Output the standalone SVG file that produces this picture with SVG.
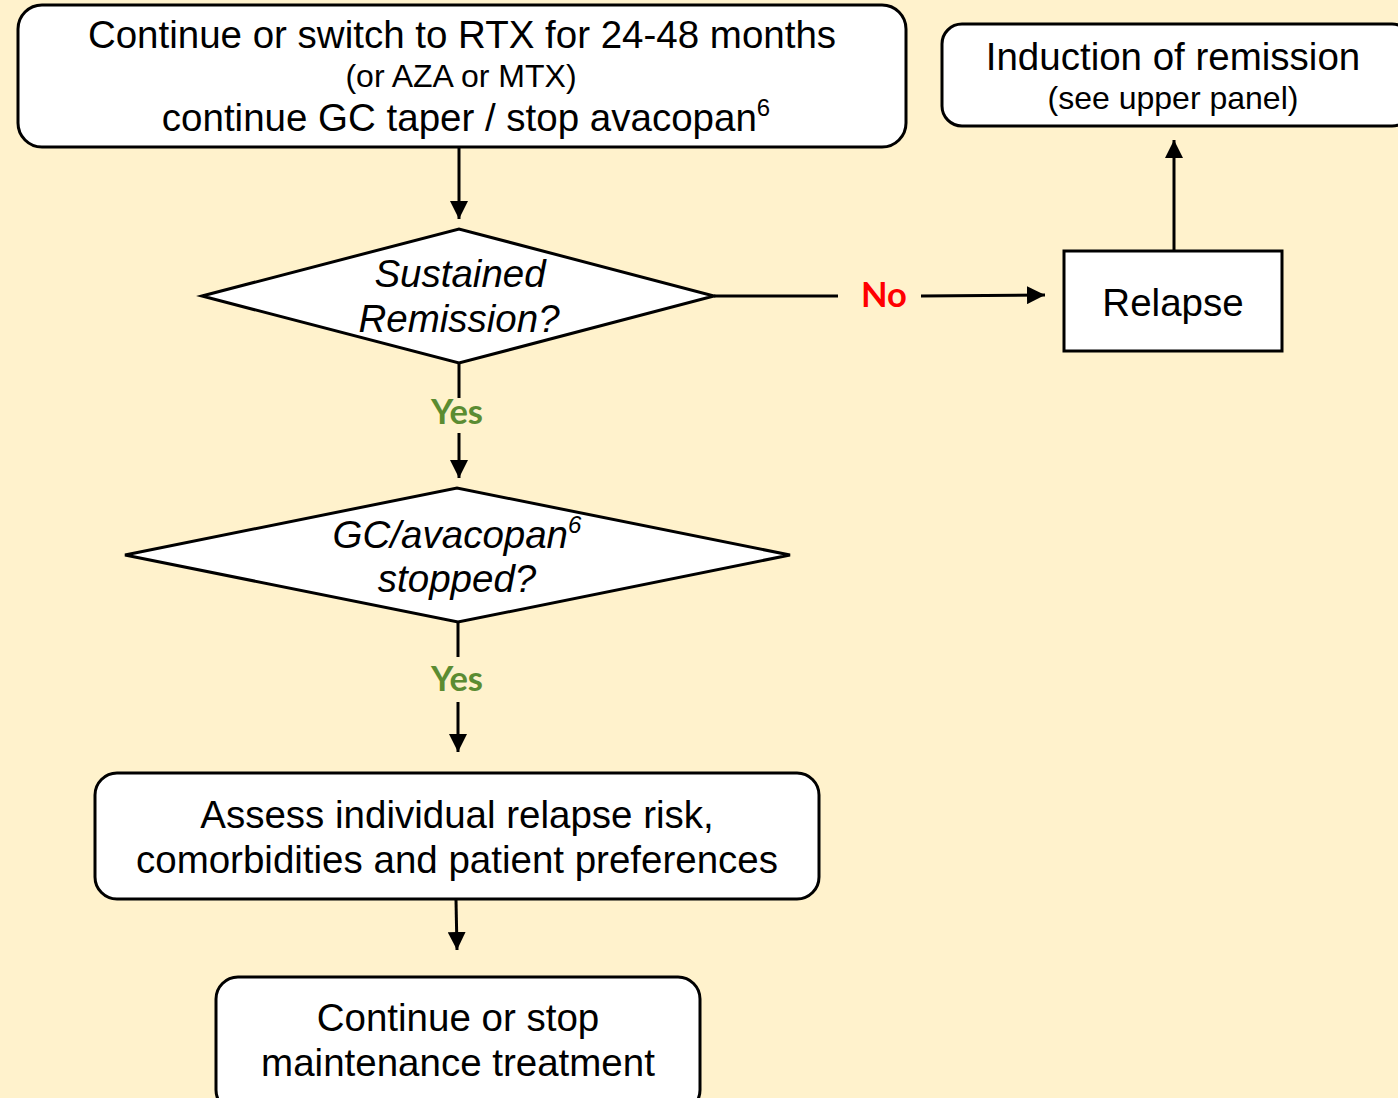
<svg xmlns="http://www.w3.org/2000/svg" width="1398" height="1098" viewBox="0 0 1398 1098">
<defs>
<style>
.box{fill:#fff;stroke:#000;stroke-width:3}
.t{font-family:"Liberation Sans",Arial,sans-serif;fill:#000;text-anchor:middle}
.big{font-size:38.5px}
.sm{font-size:32px}
.it{font-style:italic}
.lbl{font-family:Lato,"Open Sans",sans-serif;font-weight:bold;font-size:34.5px;text-anchor:middle}
.ln{stroke:#000;stroke-width:3;fill:none}
</style>
<marker id="ah" viewBox="0 0 10 10" refX="10" refY="5" markerWidth="6" markerHeight="6" markerUnits="strokeWidth" orient="auto">
<path d="M0,0 L10,5 L0,10 Z" fill="#000"/>
</marker>
</defs>
<rect width="1398" height="1098" fill="#FFF2CC"/>
<g id="connectors">
<line class="ln" x1="459" y1="148" x2="459" y2="219" marker-end="url(#ah)"/>
<line class="ln" x1="714" y1="296" x2="838" y2="296"/>
<line class="ln" x1="921" y1="296" x2="1045" y2="295" marker-end="url(#ah)"/>
<line class="ln" x1="1174" y1="251" x2="1174" y2="140" marker-end="url(#ah)"/>
<line class="ln" x1="459" y1="363" x2="459" y2="398"/>
<line class="ln" x1="459" y1="433" x2="459" y2="478" marker-end="url(#ah)"/>
<line class="ln" x1="458" y1="622" x2="458" y2="657"/>
<line class="ln" x1="458" y1="702" x2="458" y2="752" marker-end="url(#ah)"/>
<line class="ln" x1="456" y1="900" x2="457" y2="950" marker-end="url(#ah)"/>
<text class="lbl" x="884" y="307" fill="#FF0000">No</text>
<text class="lbl" x="457" y="424" fill="#5B8C32">Yes</text>
<text class="lbl" x="457" y="691" fill="#5B8C32">Yes</text>
</g>
<g id="n1">
<rect class="box" x="18" y="5" width="888" height="142" rx="24"/>
<text class="t big" x="462" y="48">Continue or switch to RTX for 24-48 months</text>
<text class="t sm" x="461" y="87">(or AZA or MTX)</text>
<text class="t big" x="466" y="131">continue GC taper / stop avacopan<tspan font-size="24" dy="-15">6</tspan></text>
</g>
<g id="n2">
<polygon class="box" points="202,296 459,229 714,296 459,363"/>
<text class="t big it" x="460" y="287">Sustained</text>
<text class="t big it" x="459" y="332">Remission?</text>
</g>
<g id="n3">
<rect class="box" x="1064" y="251" width="218" height="100"/>
<text class="t big" x="1173" y="316">Relapse</text>
</g>
<g id="n4">
<rect class="box" x="942" y="24" width="470" height="102" rx="20"/>
<text class="t big" x="1173" y="70">Induction of remission</text>
<text class="t sm" x="1173" y="109">(see upper panel)</text>
</g>
<g id="n5">
<polygon class="box" points="125,555 457,488 790,555 458,622"/>
<text class="t big it" x="457" y="548">GC/avacopan<tspan font-size="24" dy="-15">6</tspan></text>
<text class="t big it" x="457" y="592">stopped?</text>
</g>
<g id="n6">
<rect class="box" x="95" y="773" width="724" height="126" rx="22"/>
<text class="t big" x="457" y="828">Assess individual relapse risk,</text>
<text class="t big" x="457" y="873">comorbidities and patient preferences</text>
</g>
<g id="n7">
<rect class="box" x="216" y="977" width="484" height="135" rx="22"/>
<text class="t big" x="458" y="1031">Continue or stop</text>
<text class="t big" x="458" y="1076">maintenance treatment</text>
</g>
</svg>
